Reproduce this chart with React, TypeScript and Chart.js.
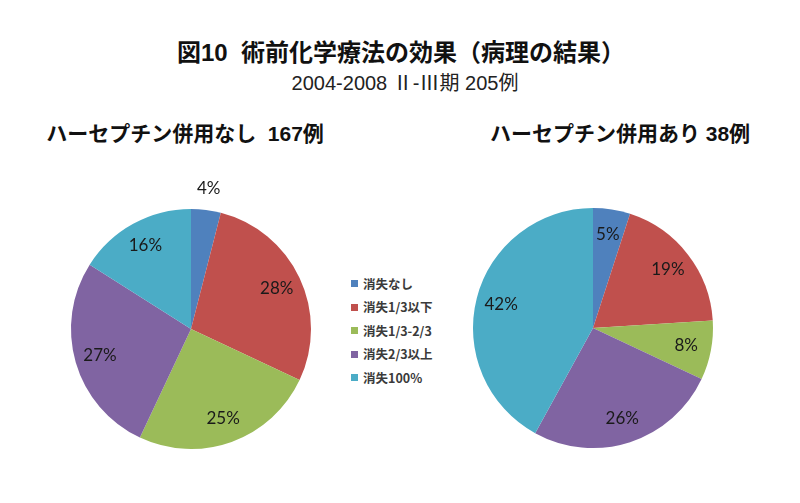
import React, { useEffect, useRef } from "react";
import { Chart, registerables } from "chart.js";

Chart.register(...registerables);

const categories = ["消失なし", "消失1/3以下", "消失1/3-2/3", "消失2/3以上", "消失100%"];
const withoutHerceptinValues = [4, 28, 25, 27, 16];
const withHerceptinValues = [5, 19, 8, 26, 42];
const sliceColors = ["#4F81BD", "#C0504D", "#9BBB59", "#8064A2", "#4BACC6"];
const titleText = "図10  術前化学療法の効果（病理の結果）";
const subtitleText = "2004-2008 Ⅱ-Ⅲ期 205例";
const leftHeader = "ハーセプチン併用なし  167例";
const rightHeader = "ハーセプチン併用あり 38例";

const CJK = '"Liberation Sans", "Noto Sans CJK JP", sans-serif';

const labelPlugin = {
  id: "sliceLabels",
  afterDatasetsDraw(chart: any) {
    const ctx = chart.ctx;
    const meta = chart.getDatasetMeta(0);
    const data = chart.data.datasets[0].data as number[];
    ctx.save();
    ctx.font = '17px Lato, "Noto Sans", sans-serif';
    ctx.fillStyle = "#1a1a1a";
    ctx.textAlign = "center";
    ctx.textBaseline = "middle";
    meta.data.forEach((arc: any, i: number) => {
      const p = arc.getProps(["startAngle", "endAngle", "x", "y", "outerRadius"], true);
      const mid = (p.startAngle + p.endAngle) / 2;
      const v = data[i];
      const f = v < 5 ? 1.18 : 0.79;
      ctx.fillText(v + "%", p.x + Math.cos(mid) * p.outerRadius * f, p.y + Math.sin(mid) * p.outerRadius * f);
    });
    ctx.restore();
  },
};

function Pie({ values, left, top }: { values: number[]; left: number; top: number }) {
  const ref = useRef<HTMLCanvasElement | null>(null);
  useEffect(() => {
    if (!ref.current) return;
    const chart = new Chart(ref.current, {
      type: "pie",
      data: {
        labels: categories,
        datasets: [{ data: values, backgroundColor: sliceColors, borderWidth: 0 }],
      },
      options: {
        responsive: false,
        animation: false,
        layout: { padding: 40 },
        plugins: { legend: { display: false }, tooltip: { enabled: false } },
      },
      plugins: [labelPlugin],
    });
    return () => chart.destroy();
  }, [values]);
  return (
    <canvas
      ref={ref}
      width={320}
      height={320}
      style={{ position: "absolute", left, top, width: 320, height: 320 }}
    />
  );
}

export default function App() {
  const textBase: React.CSSProperties = {
    position: "absolute",
    whiteSpace: "pre",
    color: "#111",
    fontFamily: CJK,
    transform: "translateX(-50%)",
  };
  return (
    <div style={{ position: "absolute", left: 0, top: 0, width: 800, height: 503, background: "#fff", overflow: "hidden" }}>
      <div style={{ ...textBase, left: 401, top: 41, fontSize: 24, lineHeight: "24px", fontWeight: "bold" }}>{titleText}</div>
      <div style={{ ...textBase, left: 405, top: 73, fontSize: 20, lineHeight: "20px", color: "#222" }}>{subtitleText}</div>
      <div style={{ ...textBase, left: 185, top: 123, fontSize: 21, lineHeight: "21px", fontWeight: "bold" }}>{leftHeader}</div>
      <div style={{ ...textBase, left: 620, top: 123, fontSize: 21, lineHeight: "21px", fontWeight: "bold" }}>{rightHeader}</div>
      <Pie values={withoutHerceptinValues} left={31} top={169} />
      <Pie values={withHerceptinValues} left={433} top={168} />
      <div style={{ position: "absolute", left: 351, top: 272 }}>
        {categories.map((c, i) => (
          <div key={c} style={{ display: "flex", alignItems: "center", height: 23.5 }}>
            <span style={{ width: 7, height: 7, background: sliceColors[i], display: "inline-block", marginRight: 5 }} />
            <span style={{ fontFamily: '"Noto Sans CJK JP", sans-serif', fontSize: 12.5, lineHeight: "14px", color: "#3a3a3a", fontWeight: "bold", whiteSpace: "pre" }}>{c}</span>
          </div>
        ))}
      </div>
    </div>
  );
}
